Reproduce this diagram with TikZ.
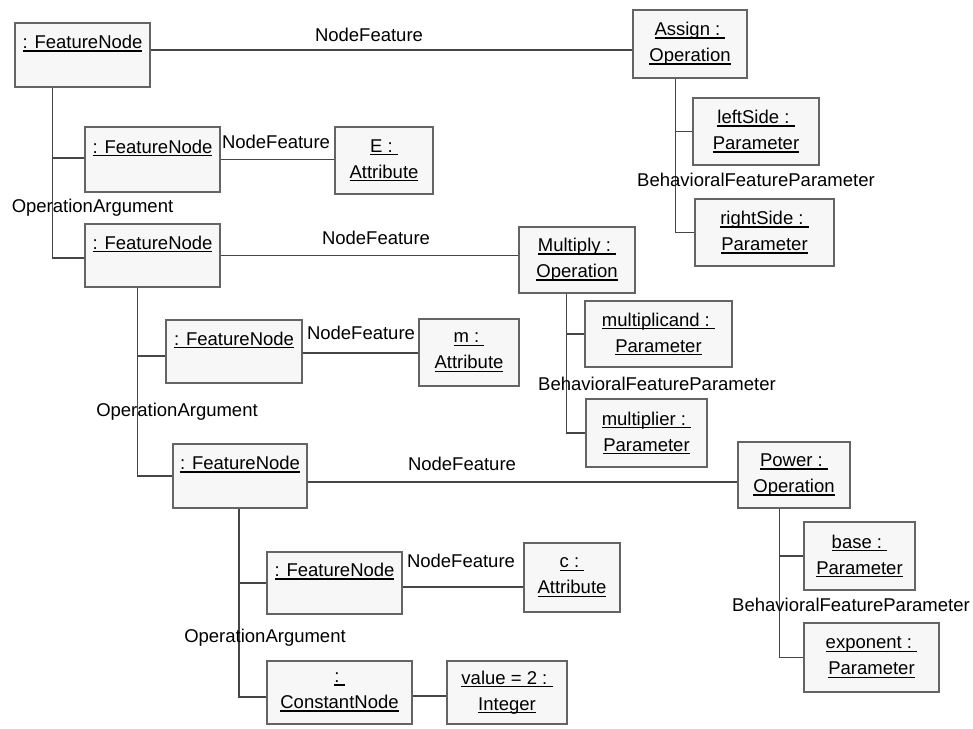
\documentclass[tikz,border=0pt]{standalone}
\usepackage{fontspec}
\setmainfont{Liberation Sans}
\usetikzlibrary{calc}

% underlined object name with a heavy rule
\newcommand\udl[1]{\setbox0=\hbox{#1}\rlap{\rule[-3.2pt]{\wd0}{1.5pt}}\box0}

\definecolor{boxfill}{RGB}{247,247,247}
\definecolor{boxline}{RGB}{100,100,100}
\definecolor{linkline}{RGB}{70,70,70}

\tikzset{
  obj/.style={draw=boxline, fill=boxfill, line width=1.2pt, inner sep=0pt,
    align=center, font=\fontsize{18.5}{26}\selectfont},
  link/.style={draw=linkline, line width=1.3pt},
  role/.style={inner sep=0pt, font=\fontsize{18.5}{22}\selectfont},
}

\begin{document}
\begin{tikzpicture}[x=1pt,y=-1pt]
\useasboundingbox (0,0) rectangle (973,728);

% object boxes
\node[obj, minimum width=135, minimum height=64] (fn1) at (82.5,55) {\udl{: FeatureNode}\\\mbox{}};
\node[obj, minimum width=114, minimum height=68] (assign) at (690,44) {\udl{Assign :\ }\\\udl{Operation}};
\node[obj, minimum width=126, minimum height=67] (lefts) at (756,131.5) {\udl{leftSide :\ }\\\udl{Parameter}};
\node[obj, minimum width=139, minimum height=67] (rights) at (764.5,232.5) {\udl{rightSide :\ }\\\udl{Parameter}};
\node[obj, minimum width=135, minimum height=65] (fn2) at (152.5,159.5) {\udl{: FeatureNode}\\\mbox{}};
\node[obj, minimum width=98, minimum height=67] (attrE) at (384,160.5) {\udl{E :\ }\\\udl{Attribute}};
\node[obj, minimum width=135, minimum height=63] (fn3) at (152.5,255.5) {\udl{: FeatureNode}\\\mbox{}};
\node[obj, minimum width=116, minimum height=66] (mult) at (577,260) {\udl{Multiply :\ }\\\udl{Operation}};
\node[obj, minimum width=147, minimum height=66] (mcand) at (658.5,334) {\udl{multiplicand :\ }\\\udl{Parameter}};
\node[obj, minimum width=121, minimum height=68] (mplier) at (646.5,433) {\udl{multiplier :\ }\\\udl{Parameter}};
\node[obj, minimum width=136, minimum height=63] (fn4) at (234,351.5) {\udl{: FeatureNode}\\\mbox{}};
\node[obj, minimum width=100, minimum height=67] (attrm) at (469,352.5) {\udl{m :\ }\\\udl{Attribute}};
\node[obj, minimum width=134, minimum height=64] (fn5) at (240,476) {\udl{: FeatureNode}\\\mbox{}};
\node[obj, minimum width=112, minimum height=66] (power) at (794,475) {\udl{Power :\ }\\\udl{Operation}};
\node[obj, minimum width=111, minimum height=68] (base) at (859.5,556) {\udl{base :\ }\\\udl{Parameter}};
\node[obj, minimum width=135, minimum height=69] (expo) at (871.5,657.5) {\udl{exponent :\ }\\\udl{Parameter}};
\node[obj, minimum width=135, minimum height=62] (fn6) at (334.5,583) {\udl{: FeatureNode}\\\mbox{}};
\node[obj, minimum width=96, minimum height=69] (attrc) at (572,577.5) {\udl{c :\ }\\\udl{Attribute}};
\node[obj, minimum width=145, minimum height=63] (const) at (339.5,692.5) {\udl{:\ }\\\udl{ConstantNode}};
\node[obj, minimum width=120, minimum height=63] (value) at (507,692.5) {\udl{value = 2 :\ }\\\udl{Integer}};

% NodeFeature links
\draw[link] ([yshift=5pt]fn1.east) -- ([yshift=5pt]fn1.east -| assign.west);
\draw[link] (fn2.east) -- (fn2.east -| attrE.west);
\draw[link] (fn3.east) -- (fn3.east -| mult.west);
\draw[link] ([yshift=-1.5pt]fn4.east) -- ([yshift=-1.5pt]fn4.east -| attrm.west);
\draw[link] ([yshift=-6pt]fn5.east) -- ([yshift=-6pt]fn5.east -| power.west);
\draw[link] ([yshift=-4pt]fn6.east) -- ([yshift=-4pt]fn6.east -| attrc.west);
\draw[link] ([yshift=-3.5pt]const.east) -- ([yshift=-3.5pt]const.east -| value.west);

% OperationArgument trees
\draw[link] ([xshift=38pt]fn1.south west) |- ([yshift=1.5pt]fn2.west);
\draw[link] ([xshift=38pt]fn1.south west) |- ([yshift=-2.5pt]fn3.west);
\draw[link] ([xshift=53pt]fn3.south west) |- ([yshift=-4.5pt]fn4.west);
\draw[link] ([xshift=53pt]fn3.south west) |- (fn5.west);
\draw[link] ([xshift=-1pt]fn5.south) |- (fn6.west);
\draw[link] ([xshift=-1pt]fn5.south) |- ([yshift=-4.5pt]const.west);

% BehavioralFeatureParameter trees
\draw[link] ([xshift=43pt]assign.south west) |- (lefts.west);
\draw[link] ([xshift=43pt]assign.south west) |- (rights.west);
\draw[link] ([xshift=48pt]mult.south west) |- (mcand.west);
\draw[link] ([xshift=48pt]mult.south west) |- (mplier.west);
\draw[link] ([xshift=42pt]power.south west) |- (base.west);
\draw[link] ([xshift=42pt]power.south west) |- (expo.west);

% association role names
\node[role] (r1) at (369,35) {NodeFeature};
\node[role] (r2) at (276,142) {NodeFeature};
\node[role] (r3) at (376,238) {NodeFeature};
\node[role] (r4) at (361,333) {NodeFeature};
\node[role] (r5) at (462,464) {NodeFeature};
\node[role] (r6) at (461,561) {NodeFeature};
\node[role] (o1) at (92.5,208) {OperationArgument};
\node[role] (o2) at (177,412) {OperationArgument};
\node[role] (o3) at (265,638) {OperationArgument};
\node[role] (b1) at (756,180) {BehavioralFeatureParameter};
\node[role] (b2) at (657,384) {BehavioralFeatureParameter};
\node[role] (b3) at (851,605) {BehavioralFeatureParameter};
\end{tikzpicture}
\end{document}
